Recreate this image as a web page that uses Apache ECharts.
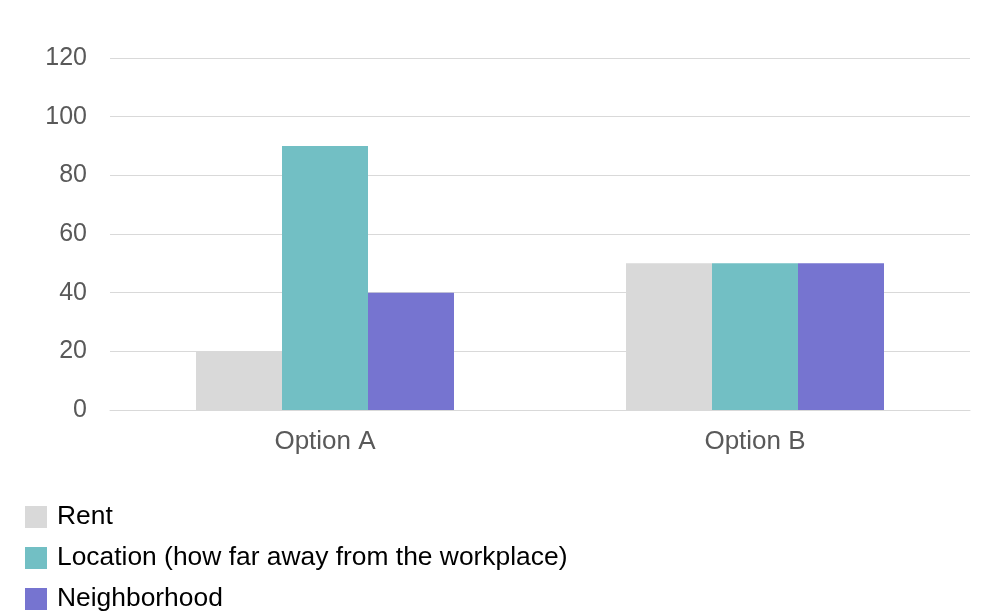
<!DOCTYPE html>
<html>
<head>
<meta charset="utf-8">
<script src="https://cdn.jsdelivr.net/npm/echarts@6/dist/echarts.min.js"></script>
<style>
  html, body { margin: 0; padding: 0; background: #fff; }
  #chart { width: 982px; height: 613px; }
</style>
</head>
<body>
<div id="chart"></div>
<script>
// data
const categories = ['Option A', 'Option B'];
const rentValues = [20, 50];
const locationValues = [90, 50];
const neighborhoodValues = [40, 50];
const seriesNames = ['Rent', 'Location (how far away from the workplace)', 'Neighborhood'];

const myChart = echarts.init(document.getElementById('chart'));
const option = {
  animation: false,
  textStyle: { fontFamily: 'Liberation Sans, Arial, sans-serif' },
  grid: {
    left: 110,
    right: 12,
    top: 58,
    bottom: 203
  },
  legend: {
    orient: 'vertical',
    left: 25,
    top: 504,
    height: 120,
    padding: 0,
    itemWidth: 22,
    itemHeight: 22,
    itemGap: 15,
    icon: 'rect',
    textStyle: { fontSize: 26.4, color: '#000', padding: [0, 0, 0, 5] },
    data: seriesNames
  },
  xAxis: {
    type: 'category',
    data: categories,
    axisTick: { show: false },
    axisLine: { lineStyle: { color: '#d9d9d9' } },
    axisLabel: { fontSize: 26, color: '#595959', margin: 19 }
  },
  yAxis: {
    type: 'value',
    min: 0,
    max: 120,
    interval: 20,
    axisLine: { show: false },
    axisTick: { show: false },
    splitLine: { lineStyle: { color: '#d9d9d9' } },
    axisLabel: { fontSize: 25, color: '#595959', margin: 23 }
  },
  series: [
    { name: seriesNames[0], type: 'bar', data: rentValues, itemStyle: { color: '#d9d9d9' }, barGap: '0%', barCategoryGap: '40%' },
    { name: seriesNames[1], type: 'bar', data: locationValues, itemStyle: { color: '#72bfc4' } },
    { name: seriesNames[2], type: 'bar', data: neighborhoodValues, itemStyle: { color: '#7674d0' } }
  ]
};
myChart.setOption(option);
</script>
</body>
</html>
